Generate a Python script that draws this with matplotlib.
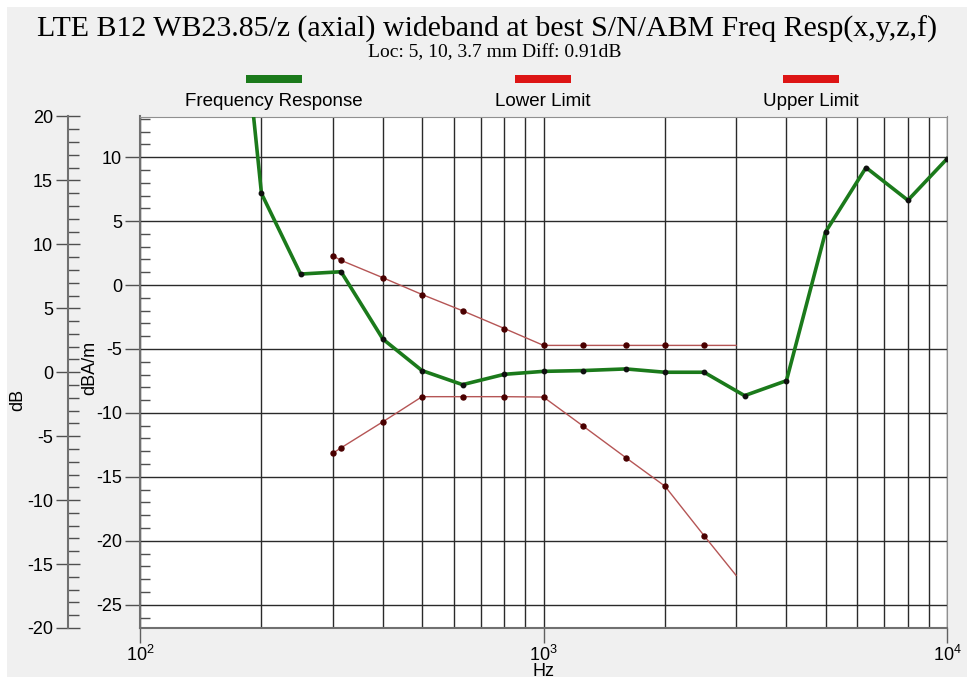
import matplotlib
matplotlib.use("Agg")
import matplotlib.pyplot as plt
from matplotlib.patches import Rectangle
from matplotlib.ticker import MultipleLocator, LogLocator, NullFormatter
import numpy as np

# frequency response (dBA/m) at 1/3 octave points
resp_hz = [160, 200, 250, 315, 400, 500, 630, 800, 1000, 1250, 1600, 2000,
           2500, 3150, 4000, 5000, 6300, 8000, 10000]
resp_db = [37.0, 7.16, 0.86, 1.04, -4.23, -6.69, -7.79, -6.98, -6.75, -6.69,
           -6.56, -6.82, -6.82, -8.65, -7.48, 4.15, 9.19, 6.63, 9.87]

limit_hz = [300, 315, 400, 500, 630, 800, 1000, 1250, 1600, 2000, 2500, 3000]
upper_db = [2.30, 1.93, 0.57, -0.74, -2.01, -3.40, -4.72, -4.72, -4.72,
            -4.72, -4.72, -4.72]
lower_db = [-13.17, -12.73, -10.69, -8.73, -8.73, -8.73, -8.76, -11.0, -13.5,
            -15.73, -19.6, -22.7]

legend_names = ["Frequency Response", "Lower Limit", "Upper Limit"]

title = "LTE B12 WB23.85/z (axial) wideband at best S/N/ABM Freq Resp(x,y,z,f)"
subtitle = "Loc: 5, 10, 3.7 mm Diff: 0.91dB"

plt.rcParams["font.family"] = ["Liberation Sans", "DejaVu Sans"]
plt.rcParams["axes.unicode_minus"] = False

W, H = 974, 684
fig = plt.figure(figsize=(W / 100, H / 100), dpi=100)
fig.patch.set_facecolor("white")
fig.add_artist(Rectangle((7 / W, 7 / H), 1 - 14 / W, 1 - 14 / H,
                         transform=fig.transFigure, facecolor="#f0f0f0",
                         edgecolor="none", zorder=-10))

left, right = 140 / W, 947 / W
bottom, top = 1 - 628 / H, 1 - 116.5 / H
ax = fig.add_axes([left, bottom, right - left, top - bottom])
ax.set_facecolor("white")

green = "#1b7a1b"
red_line = "#b55555"
red_mark = "#4a0000"

ax.plot(resp_hz, resp_db, color=green, lw=2.6, zorder=3)
ax.plot(resp_hz[1:], resp_db[1:], ls="none", marker="o", ms=3.2,
        color="#101010", zorder=4)
for vals in (upper_db, lower_db):
    ax.plot(limit_hz, vals, color=red_line, lw=1.0, zorder=3)
    ax.plot(limit_hz[:-1], vals[:-1], ls="none", marker="o", ms=3.6,
            color=red_mark, zorder=4)

ax.set_xscale("log")
ax.set_xlim(100, 10000)
ax.set_ylim(-26.82, 13.18)
ax.xaxis.set_major_locator(LogLocator(base=10, numticks=5))
ax.xaxis.set_minor_locator(LogLocator(base=10, subs=np.arange(2, 10), numticks=20))
ax.xaxis.set_minor_formatter(NullFormatter())
ax.yaxis.set_major_locator(MultipleLocator(5))
ax.yaxis.set_minor_locator(MultipleLocator(1))

ax.grid(True, which="both", axis="x", color="#2a2a2a", lw=1.0)
ax.grid(True, which="major", axis="y", color="#2a2a2a", lw=1.0)
ax.set_axisbelow(True)

ax.tick_params(axis="x", which="major", direction="out", length=11, width=1,
               color="#606060", labelsize=13, pad=1)
ax.tick_params(axis="x", which="minor", length=0)
ax.tick_params(axis="y", which="major", direction="out", length=11, width=1,
               color="#505050", labelsize=13, pad=2)
ax.tick_params(axis="y", which="minor", direction="in", length=7, width=1,
               color="#505050")
for side in ("left", "bottom"):
    ax.spines[side].set_color("#707070")
    ax.spines[side].set_linewidth(1.5)
for side in ("top", "right"):
    ax.spines[side].set_color("#909090")
    ax.spines[side].set_linewidth(0.8)

# outer dB scale
ax2 = fig.add_axes(ax.get_position())
ax2.patch.set_visible(False)
ax2.set_ylim(-20, 20)
ax2.set_xticks([])
for side in ("top", "right", "bottom"):
    ax2.spines[side].set_visible(False)
ax2.spines["left"].set_position(("axes", (67.5 - 140) / (947 - 140)))
ax2.spines["left"].set_color("#707070")
ax2.spines["left"].set_linewidth(1.5)
ax2.yaxis.set_major_locator(MultipleLocator(5))
ax2.yaxis.set_minor_locator(MultipleLocator(1))
ax2.tick_params(axis="y", which="major", direction="inout", length=17, width=1,
                color="#505050", labelsize=13, pad=2)
ax2.tick_params(axis="y", which="minor", direction="in", length=8, width=1,
                color="#505050")

fig.text(18 / W, 1 - 400 / H, "dB", rotation=90, ha="center", va="center",
         fontsize=13)
fig.text(90 / W, 1 - 368 / H, "dBA/m", rotation=90, ha="center", va="center",
         fontsize=13)
fig.text(543 / W, 1 - 672 / H, "Hz", ha="center", va="center", fontsize=13)

fig.text(487 / W, 1 - 29 / H, title, ha="center", va="center", fontsize=21.5,
         family=["Liberation Serif", "DejaVu Serif"])
fig.text(495 / W, 1 - 53 / H, subtitle, ha="center", va="center", fontsize=14,
         family=["Liberation Serif", "DejaVu Serif"])

legend_colors = [green, "#dd1515", "#dd1515"]
legend_x = [274, 543, 811]
for name, c, xc in zip(legend_names, legend_colors, legend_x):
    fig.add_artist(Rectangle(((xc - 28) / W, 1 - 83 / H), 56 / W, 8 / H,
                             transform=fig.transFigure, facecolor=c,
                             edgecolor="none"))
    fig.text(xc / W, 1 - 102 / H, name, ha="center", va="center", fontsize=13.5)

fig.savefig("out.png", dpi=100)
